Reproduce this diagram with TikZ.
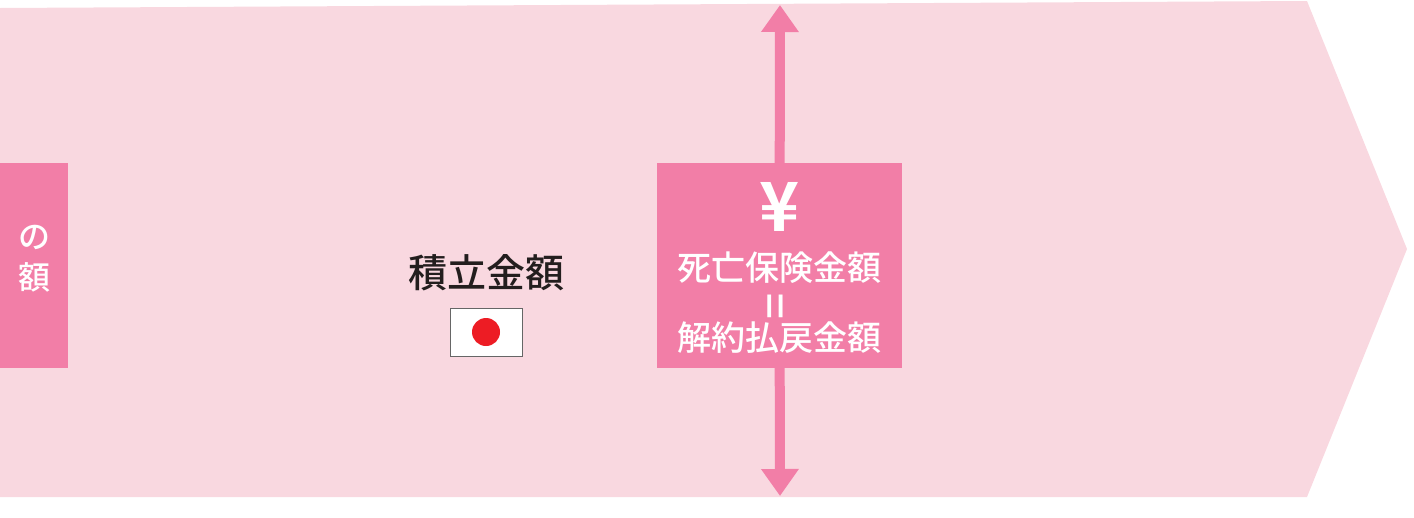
\documentclass[tikz,border=0pt]{standalone}
\usepackage{fontspec}
\newfontfamily\jp{Noto Sans CJK JP Medium}
\newfontfamily\jpb{Noto Sans CJK JP Bold}
\usetikzlibrary{arrows.meta}
\definecolor{bgpink}{RGB}{249,216,224}
\definecolor{boxpink}{RGB}{242,126,167}
\definecolor{inkdark}{RGB}{35,30,30}
\definecolor{flagred}{RGB}{237,28,36}
\tikzset{
  pinkbox/.style={fill=boxpink, draw=none, inner sep=0pt, anchor=north west},
  whitetext/.style={text=white, font=\jp\fontsize{32}{36}\selectfont, inner sep=0pt},
  updown/.style={draw=boxpink, line width=10pt, -{Triangle[width=36pt,length=27pt]}, shorten <=-1pt},
}
\begin{document}
\begin{tikzpicture}[x=1pt,y=-1pt]
\useasboundingbox (0,0) rectangle (1414,517);
% big arrow band
\fill[bgpink] (0,8) -- (1307,1) -- (1407,249) -- (1307,497) -- (0,497) -- cycle;
% left box
\node[pinkbox, minimum width=68pt, minimum height=205pt] (leftbox) at (0,163) {};
\node[whitetext] (leftno) at (35,237) {の};
\node[whitetext] (leftgaku) at (35,277) {額};
% center label
\node[text=inkdark, font=\jp\fontsize{39}{44}\selectfont, inner sep=0pt] (tsumitate) at (486,273) {積立金額};
\node[draw=black!60, line width=0.8pt, fill=white, minimum width=72pt, minimum height=48pt, inner sep=0pt] (flag) at (486,332) {};
\fill[flagred] (flag.center) circle (14);
% right box
\node[pinkbox, minimum width=245pt, minimum height=205pt] (mainbox) at (657,163) {};
\node[text=white, font=\jpb\fontsize{68}{68}\selectfont, inner sep=0pt] (yen) at (780,207) {¥};
\node[whitetext, font=\jp\fontsize{34}{38}\selectfont] (line1) at (779,268) {死亡保険金額};
\node[whitetext, font=\jp\fontsize{46}{46}\selectfont, rotate=90] (eq) at (780,306) {=};
\node[whitetext, font=\jp\fontsize{34}{38}\selectfont] (line3) at (779,338) {解約払戻金額};
% arrows
\coordinate (toptip) at (780,5);
\coordinate (bottip) at (780,496);
\draw[updown] (mainbox.north) -- (toptip);
\draw[updown] (mainbox.south) -- (bottip);
\end{tikzpicture}
\end{document}
